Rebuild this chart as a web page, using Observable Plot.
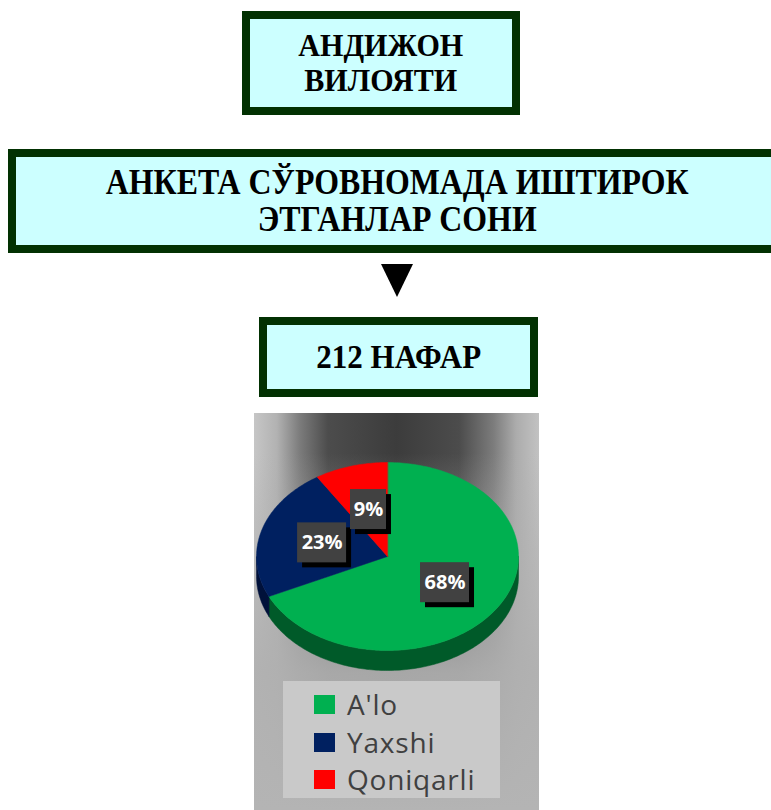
<!DOCTYPE html>
<html><head><meta charset="utf-8">
<script src="https://cdn.jsdelivr.net/npm/d3@7"></script>
<script src="https://cdn.jsdelivr.net/npm/@observablehq/plot@0.6"></script>
<style>
html,body{margin:0;padding:0;background:#fff;}
body{width:771px;height:810px;overflow:hidden;position:relative;font-family:"Liberation Serif","Times New Roman",serif;}
.box{position:absolute;box-sizing:border-box;border:8px solid #023102;background:#ccffff;display:flex;align-items:center;justify-content:center;text-align:center;font-weight:bold;color:#000;}
.box span{display:inline-block;}
#b1{left:242px;top:11px;width:278px;height:104px;font-size:32px;line-height:35px;}
#b1 span{transform:scaleX(0.94);}
#b2{left:8px;top:149px;width:778px;height:104px;font-size:35px;line-height:37px;}
#b2 span{transform:scaleX(0.91);white-space:nowrap;}
#b3{left:259px;top:317px;width:279px;height:80px;font-size:33px;line-height:34px;}
#b3 span{transform:scaleX(0.94);}
#tri{position:absolute;left:381px;top:264px;width:0;height:0;border-left:16px solid transparent;border-right:16px solid transparent;border-top:33px solid #000;}
#panel{position:absolute;left:254px;top:413px;width:285px;height:397px;overflow:hidden;
 background:
  linear-gradient(to bottom, rgba(178,178,178,0) 0px, rgba(178,178,178,0) 40px, rgba(176,176,176,0.55) 150px, rgba(176,176,176,0.92) 260px, rgba(180,180,180,1) 397px),
  linear-gradient(to right, #c6c6c6 0%, #b2b2b2 8%, #7c7c7c 16%, #4c4c4c 26%, #3c3c3c 50%, #4c4c4c 72%, #7c7c7c 84%, #acacac 92%, #c2c2c2 100%);}
#panel svg{position:absolute;left:0;top:0;}
#legend{position:absolute;left:29px;top:268px;width:217px;height:117px;background:#c9c9c9;font-family:"Open Sans",sans-serif;color:#404040;}
.row{position:absolute;left:31px;height:19px;display:flex;align-items:center;}
.sw{width:21px;height:19px;margin-right:12px;}
.lt{font-size:28px;line-height:19px;letter-spacing:0.8px;}
</style></head>
<body>
<div class="box" id="b1"><span>АНДИЖОН<br>ВИЛОЯТИ</span></div>
<div class="box" id="b2"><span>АНКЕТА СЎРОВНОМАДА ИШТИРОК<br>ЭТГАНЛАР СОНИ</span></div>
<div id="tri"></div>
<div class="box" id="b3"><span>212 НАФАР</span></div>
<div id="panel"><div id="legend"></div></div>
<script>
const categories = ["A'lo", "Yaxshi", "Qoniqarli"];
const values = [68, 23, 9];
const colors = ["#00b050", "#002060", "#ff0000"];
const sideColors = ["#005a29", "#00113a", "#8a0000"];

const W = 285, H = 397, cx = 133, cy = 143, rx = 131, ry = 94, depth = 20;
const total = d3.sum(values);
let acc = 0;
const slices = values.map((v, i) => {
  const a0 = acc / total * 360; acc += v; const a1 = acc / total * 360;
  return {i, cat: categories[i], v, a0, a1};
});
const pt = (deg, dy = 0) => { const r = deg * Math.PI / 180; return {x: cx + rx * Math.sin(r), y: cy - ry * Math.cos(r) + dy}; };
function arcPts(a0, a1, dy) {
  const n = Math.max(2, Math.ceil(a1 - a0));
  return d3.range(n + 1).map(k => pt(a0 + (a1 - a0) * k / n, dy));
}
const tops = slices.map(s => ({...s, pts: [{x: cx, y: cy}, ...arcPts(s.a0, s.a1, 0)]}));
const sides = slices.map(s => {
  const a0 = Math.max(s.a0, 90), a1 = Math.min(s.a1, 270);
  if (a1 <= a0) return null;
  return {...s, pts: [...arcPts(a0, a1, 0), ...arcPts(a0, a1, depth).reverse()]};
}).filter(Boolean);

const labels = slices.map(s => {
  const p = pt((s.a0 + s.a1) / 2);
  const text = Math.round(s.v / total * 100) + "%";
  return {text, x: cx + (p.x - cx) * 0.52, y: cy + (p.y - cy) * 0.52, w: 13 * text.length + 10};
});

const marks = [];
sides.forEach(p => marks.push(Plot.line(p.pts, {x: "x", y: "y", fill: sideColors[p.i], stroke: sideColors[p.i], strokeWidth: 0.5, curve: "linear-closed"})));
tops.forEach(p => marks.push(Plot.line(p.pts, {x: "x", y: "y", fill: colors[p.i], stroke: colors[p.i], strokeWidth: 0.5, curve: "linear-closed"})));
marks.push(Plot.rect(labels, {x1: d => d.x - d.w / 2, x2: d => d.x + d.w / 2, y1: d => d.y - 20, y2: d => d.y + 20, fill: "#000", dx: 5, dy: 5}));
marks.push(Plot.rect(labels, {x1: d => d.x - d.w / 2, x2: d => d.x + d.w / 2, y1: d => d.y - 20, y2: d => d.y + 20, fill: "#414141"}));
marks.push(Plot.text(labels, {x: "x", y: "y", text: "text", fill: "#fff", fontSize: 20, fontWeight: "bold", fontFamily: "Open Sans"}));

const chart = Plot.plot({
  width: W, height: H, margin: 0,
  x: {domain: [0, W], range: [0, W], axis: null},
  y: {domain: [0, H], range: [0, H], axis: null},
  style: {background: "transparent", overflow: "visible"},
  marks
});
const panel = document.getElementById("panel");
panel.insertBefore(chart, panel.firstChild);

const legend = document.getElementById("legend");
categories.forEach((c, i) => {
  const row = document.createElement("div");
  row.className = "row";
  row.style.top = (14 + i * 37.5) + "px";
  row.innerHTML = `<div class="sw" style="background:${colors[i]}"></div><div class="lt"></div>`;
  row.querySelector(".lt").textContent = c;
  legend.appendChild(row);
});
</script>
</body></html>
